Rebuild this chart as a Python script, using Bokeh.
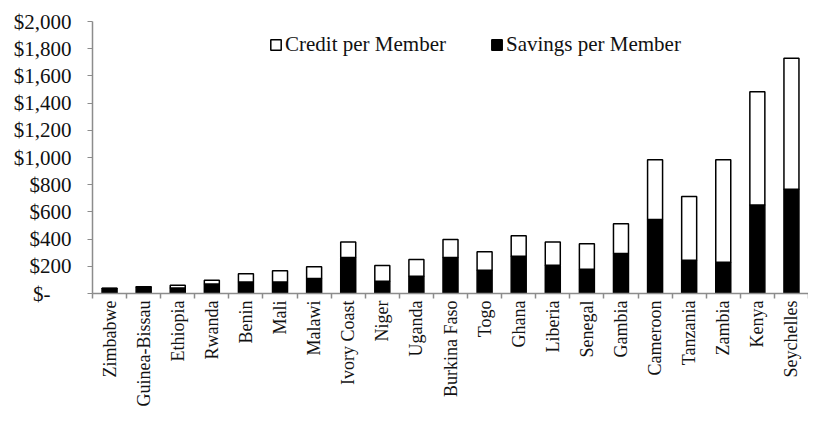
from bokeh.plotting import figure
from bokeh.models import (ColumnDataSource, Range1d, FixedTicker, NumeralTickFormatter,
                          Legend, LegendItem)
from bokeh.embed import file_html
from bokeh.resources import INLINE

countries = ["Zimbabwe", "Guinea-Bissau", "Ethiopia", "Rwanda", "Benin", "Mali", "Malawi",
             "Ivory Coast", "Niger", "Uganda", "Burkina Faso", "Togo", "Ghana", "Liberia",
             "Senegal", "Gambia", "Cameroon", "Tanzania", "Zambia", "Kenya", "Seychelles"]
savings = [36, 47, 40, 70, 85, 85, 110, 265, 90, 127, 265, 171, 274, 208, 179, 294,
           544, 245, 230, 651, 767]
credit = [2, 2, 20, 27, 60, 82, 86, 113, 116, 123, 132, 136, 150, 170, 187, 219,
          439, 468, 753, 832, 962]
y_ticks = [0, 200, 400, 600, 800, 1000, 1200, 1400, 1600, 1800, 2000]

n = len(countries)
centers = [i + 0.5 for i in range(n)]
bounds = [i for i in range(n + 1)]

src = ColumnDataSource(dict(x=centers, savings=savings, credit=credit))

FONT = "Liberation Serif"

p = figure(width=808, height=411, output_backend="svg", toolbar_location=None,
           x_range=Range1d(0, n), y_range=Range1d(0, 2000),
           min_border_left=92, min_border_right=0, min_border_top=21, min_border_bottom=118)
p.outline_line_color = None
p.xgrid.visible = False
p.ygrid.visible = False
p.background_fill_color = "white"

rs = p.vbar_stack(["savings", "credit"], x="x", width=0.44, source=src,
                  fill_color=["black", "white"], line_color="black", line_width=1.5)

legend = Legend(items=[LegendItem(label="Credit per Member", renderers=[rs[1]]),
                       LegendItem(label="Savings per Member", renderers=[rs[0]])],
                orientation="horizontal", location=(177, 236),
                label_text_font=FONT, label_text_font_size="21px", label_text_color="#111111",
                glyph_width=13, glyph_height=13, label_standoff=3, spacing=44,
                padding=0, margin=0, border_line_color=None, background_fill_alpha=0)
p.add_layout(legend, "center")

# y axis
p.yaxis.ticker = FixedTicker(ticks=y_ticks)
p.yaxis.formatter = NumeralTickFormatter(format="$0,0")
p.yaxis.major_label_overrides = {0: "$-\u00a0\u00a0\u00a0\u00a0"}
p.yaxis.major_label_text_font = FONT
p.yaxis.major_label_text_font_size = "21px"
p.yaxis.major_label_text_color = "#111111"
p.yaxis.major_label_standoff = 16
p.yaxis.axis_line_color = "#8c8c8c"
p.yaxis.axis_line_width = 1.5
p.yaxis.major_tick_line_color = "#8c8c8c"
p.yaxis.major_tick_out = 5
p.yaxis.major_tick_in = 0
p.yaxis.minor_tick_line_color = None

# x axis
p.xaxis.ticker = FixedTicker(ticks=centers, minor_ticks=bounds)
p.xaxis.major_label_overrides = {c: name for c, name in zip(centers, countries)}
p.xaxis.major_label_orientation = 3.14159265 / 2
p.xaxis.major_label_text_font = FONT
p.xaxis.major_label_text_font_size = "18px"
p.xaxis.major_label_text_color = "#111111"
p.xaxis.major_label_standoff = 1
p.xaxis.axis_line_color = "#8c8c8c"
p.xaxis.axis_line_width = 1.5
p.xaxis.major_tick_line_color = None
p.xaxis.minor_tick_line_color = "#8c8c8c"
p.xaxis.minor_tick_line_width = 1.5
p.xaxis.minor_tick_out = 5
p.xaxis.minor_tick_in = 0

open("out.html", "w").write(file_html(p, INLINE))
